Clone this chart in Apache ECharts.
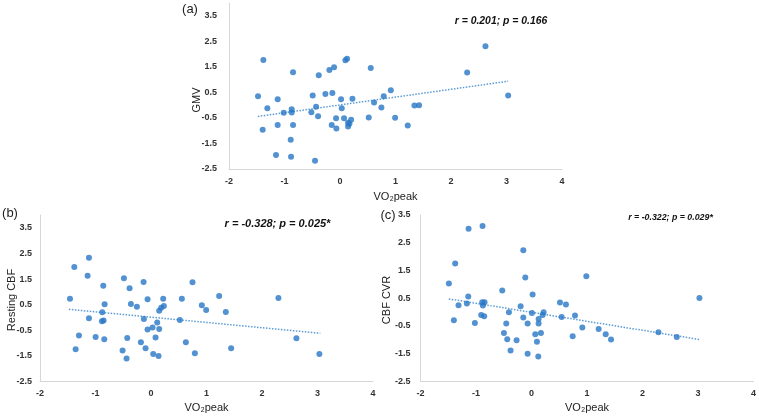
<!DOCTYPE html>
<html><head><meta charset="utf-8">
<script src="https://cdn.jsdelivr.net/npm/echarts@6/dist/echarts.min.js"></script>
<style>html,body{margin:0;padding:0;background:#fff}#c{width:759px;height:417px}</style>
</head><body><div id="c"></div>
<script>
// Panel (a): GMV vs VO2peak
const aX = [-1.477,-1.381,-1.393,-1.309,-1.123,-1.123,-1.153,-1.014,-0.87,-0.87,-0.888,-0.882,-0.846,-0.846,-0.516,-0.492,-0.431,-0.45,-0.383,-0.395,-0.263,-0.191,-0.137,-0.107,-0.149,-0.071,-0.065,0.019,0.031,0.097,0.127,0.073,0.145,0.145,0.17,0.2,0.224,0.518,0.554,0.614,0.746,0.788,0.915,0.993,1.221,1.341,1.425,2.291,2.621,3.03];
const aY = [0.35,1.77,-0.96,-0.118,0.233,-0.782,-1.954,-0.30,-0.157,-0.287,-1.355,-2.019,1.287,-0.782,-0.275,0.376,-0.066,-2.175,1.17,-0.43,0.441,1.378,0.48,1.483,-0.782,-0.509,-0.912,0.233,-0.118,1.756,1.821,-0.509,-0.691,-0.834,-0.73,-0.574,0.246,-0.483,1.457,0.103,-0.092,0.35,0.585,-0.496,-0.795,-0.014,0.0,1.274,2.303,0.376];
const aTrendX = [-1.48, 3.03];
const aTrendY = [-0.444, 0.936];

// Panel (b): Resting CBF vs VO2peak
const bX = [-1.46,-1.382,-1.358,-1.298,-1.142,-1.118,-1.118,-0.998,-0.86,-0.878,-0.884,-0.854,-0.836,-0.842,-0.512,-0.488,-0.44,-0.428,-0.386,-0.362,-0.254,-0.182,-0.134,-0.128,-0.098,-0.062,-0.062,0.028,0.04,0.082,0.112,0.136,0.148,0.148,0.184,0.22,0.232,0.52,0.556,0.628,0.748,0.79,0.916,0.994,1.228,1.348,1.444,2.296,2.62,3.034];
const bY = [0.734,1.968,-1.24,-0.708,1.63,2.331,-0.032,-0.76,1.24,0.201,-0.149,-0.123,0.513,-0.851,-1.292,1.526,-1.604,-0.799,1.136,0.526,0.422,-0.968,1.383,-0.058,-1.201,0.708,-0.474,-0.396,-1.422,-0.786,-0.201,-1.5,-0.448,0.266,0.383,0.734,0.448,-0.097,0.734,-0.968,1.37,-1.396,0.474,0.292,0.838,0.214,-1.201,0.76,-0.812,-1.422];
const bTrendX = [-1.48, 3.05];
const bTrendY = [0.318, -0.617];

// Panel (c): CBF CVR vs VO2peak
const cX = [-1.489,-1.375,-1.399,-1.315,-1.164,-1.14,-1.134,-1.02,-0.906,-0.882,-0.888,-0.876,-0.846,-0.852,-0.527,-0.497,-0.455,-0.437,-0.407,-0.377,-0.269,-0.196,-0.148,-0.148,-0.112,-0.07,-0.07,0.008,0.02,0.068,0.098,0.122,0.128,0.128,0.17,0.2,0.218,0.513,0.543,0.621,0.742,0.784,0.916,0.988,1.21,1.337,1.433,2.287,2.617,3.026];
const cY = [1.028,1.748,-0.292,0.248,0.308,0.56,3.008,-0.388,-0.1,3.104,0.356,0.236,0.356,-0.148,0.776,-0.748,-0.412,-0.976,0.0,-1.384,-1.012,0.212,2.228,-0.196,1.244,-0.412,-1.504,-0.028,0.632,-0.796,-1.072,-1.6,-0.244,-0.412,-0.748,-0.1,0.0,0.344,-0.172,0.272,-0.868,-0.124,-0.556,1.292,-0.604,-0.796,-0.988,-0.724,-0.892,0.512];
const cTrendX = [-1.49, 3.03];
const cTrendY = [0.476, -0.988];

const xName = 'VO\u2082peak';
const yNames = ['GMV', 'Resting CBF', 'CBF CVR'];
const panelTags = ['(a)', '(b)', '(c)'];
const statTexts = ['r = 0.201; p = 0.166', 'r = -0.328; p = 0.025*', 'r = -0.322; p = 0.029*'];

const pts = (xs, ys) => xs.map((x, i) => [x, ys[i]]);
const FONT = 'Liberation Sans, Arial, sans-serif';
const dotColor = '#2877c6';
const trendColor = '#5b9bd5';
const axisColor = '#d6d6d6';

const grids = [
  {left: 229, right: 197, top: 3, bottom: 248},
  {left: 40, right: 386, top: 215, bottom: 35.5},
  {left: 420.5, right: 5, top: 215, bottom: 35.5}
];
const yMax = [4, 4, 3.5];
const yLabelMargin = [12, 8, 10];

function xAxis(i) {
  return {
    gridIndex: i, type: 'value', min: -2, max: 4, interval: 1,
    name: xName, nameLocation: 'middle', nameGap: i === 0 ? 22 : 21,
    nameTextStyle: {fontFamily: FONT, fontSize: 11, color: '#222'},
    axisLine: {onZero: false, lineStyle: {color: axisColor, width: 1}},
    axisTick: {show: false}, splitLine: {show: false},
    axisLabel: {fontFamily: FONT, fontSize: 9, fontWeight: 'bold', color: '#333', margin: 8}
  };
}
function yAxis(i) {
  return {
    gridIndex: i, type: 'value', min: -2.5, max: yMax[i], interval: 1,
    axisLine: {show: true, onZero: false, lineStyle: {color: axisColor, width: 1}},
    axisTick: {show: false}, splitLine: {show: false},
    axisLabel: {fontFamily: FONT, fontSize: 9, fontWeight: 'bold', color: '#333', margin: yLabelMargin[i],
      showMaxLabel: yMax[i] === 3.5, formatter: v => v.toFixed(1)}
  };
}

const scatter = (i, data) => ({type: 'scatter', xAxisIndex: i, yAxisIndex: i, data, symbolSize: 6,
  itemStyle: {color: dotColor}, silent: true});
const trend = (i, xs, ys) => ({type: 'line', xAxisIndex: i, yAxisIndex: i, data: pts(xs, ys), symbol: 'none',
  lineStyle: {color: trendColor, width: 1.5, type: [1.5, 1.5]}, silent: true, z: 1});

const yNamePos = [[197, 100], [12, 300], [387, 300]];
const tagPos = [[190, 9], [10, 213], [388, 215]];
const statPos = [[501, 21], [277.5, 224], [670.5, 218]];
const statSize = [10.4, 11, 8.8];

const graphics = [];
for (let i = 0; i < 3; i++) {
  graphics.push({type: 'text', x: yNamePos[i][0], y: yNamePos[i][1], rotation: Math.PI / 2,
    style: {text: yNames[i], x: 0, y: 0, align: 'center', verticalAlign: 'middle', fontFamily: FONT, fontSize: 11, fill: '#222'}});
  graphics.push({type: 'text', x: tagPos[i][0], y: tagPos[i][1],
    style: {text: panelTags[i], x: 0, y: 0, align: 'center', verticalAlign: 'middle', fontFamily: FONT, fontSize: 13, fill: '#222'}});
  graphics.push({type: 'text', x: statPos[i][0], y: statPos[i][1],
    style: {text: statTexts[i], x: 0, y: 0, align: 'center', verticalAlign: 'middle', fontFamily: FONT, fontSize: statSize[i], fontStyle: 'italic', fontWeight: 'bold', fill: '#111'}});
}

const chart = echarts.init(document.getElementById('c'), null, {renderer: 'canvas'});
chart.setOption({
  animation: false,
  grid: grids,
  xAxis: [xAxis(0), xAxis(1), xAxis(2)],
  yAxis: [yAxis(0), yAxis(1), yAxis(2)],
  series: [
    trend(0, aTrendX, aTrendY), scatter(0, pts(aX, aY)),
    trend(1, bTrendX, bTrendY), scatter(1, pts(bX, bY)),
    trend(2, cTrendX, cTrendY), scatter(2, pts(cX, cY))
  ],
  graphic: graphics
});
</script></body></html>
